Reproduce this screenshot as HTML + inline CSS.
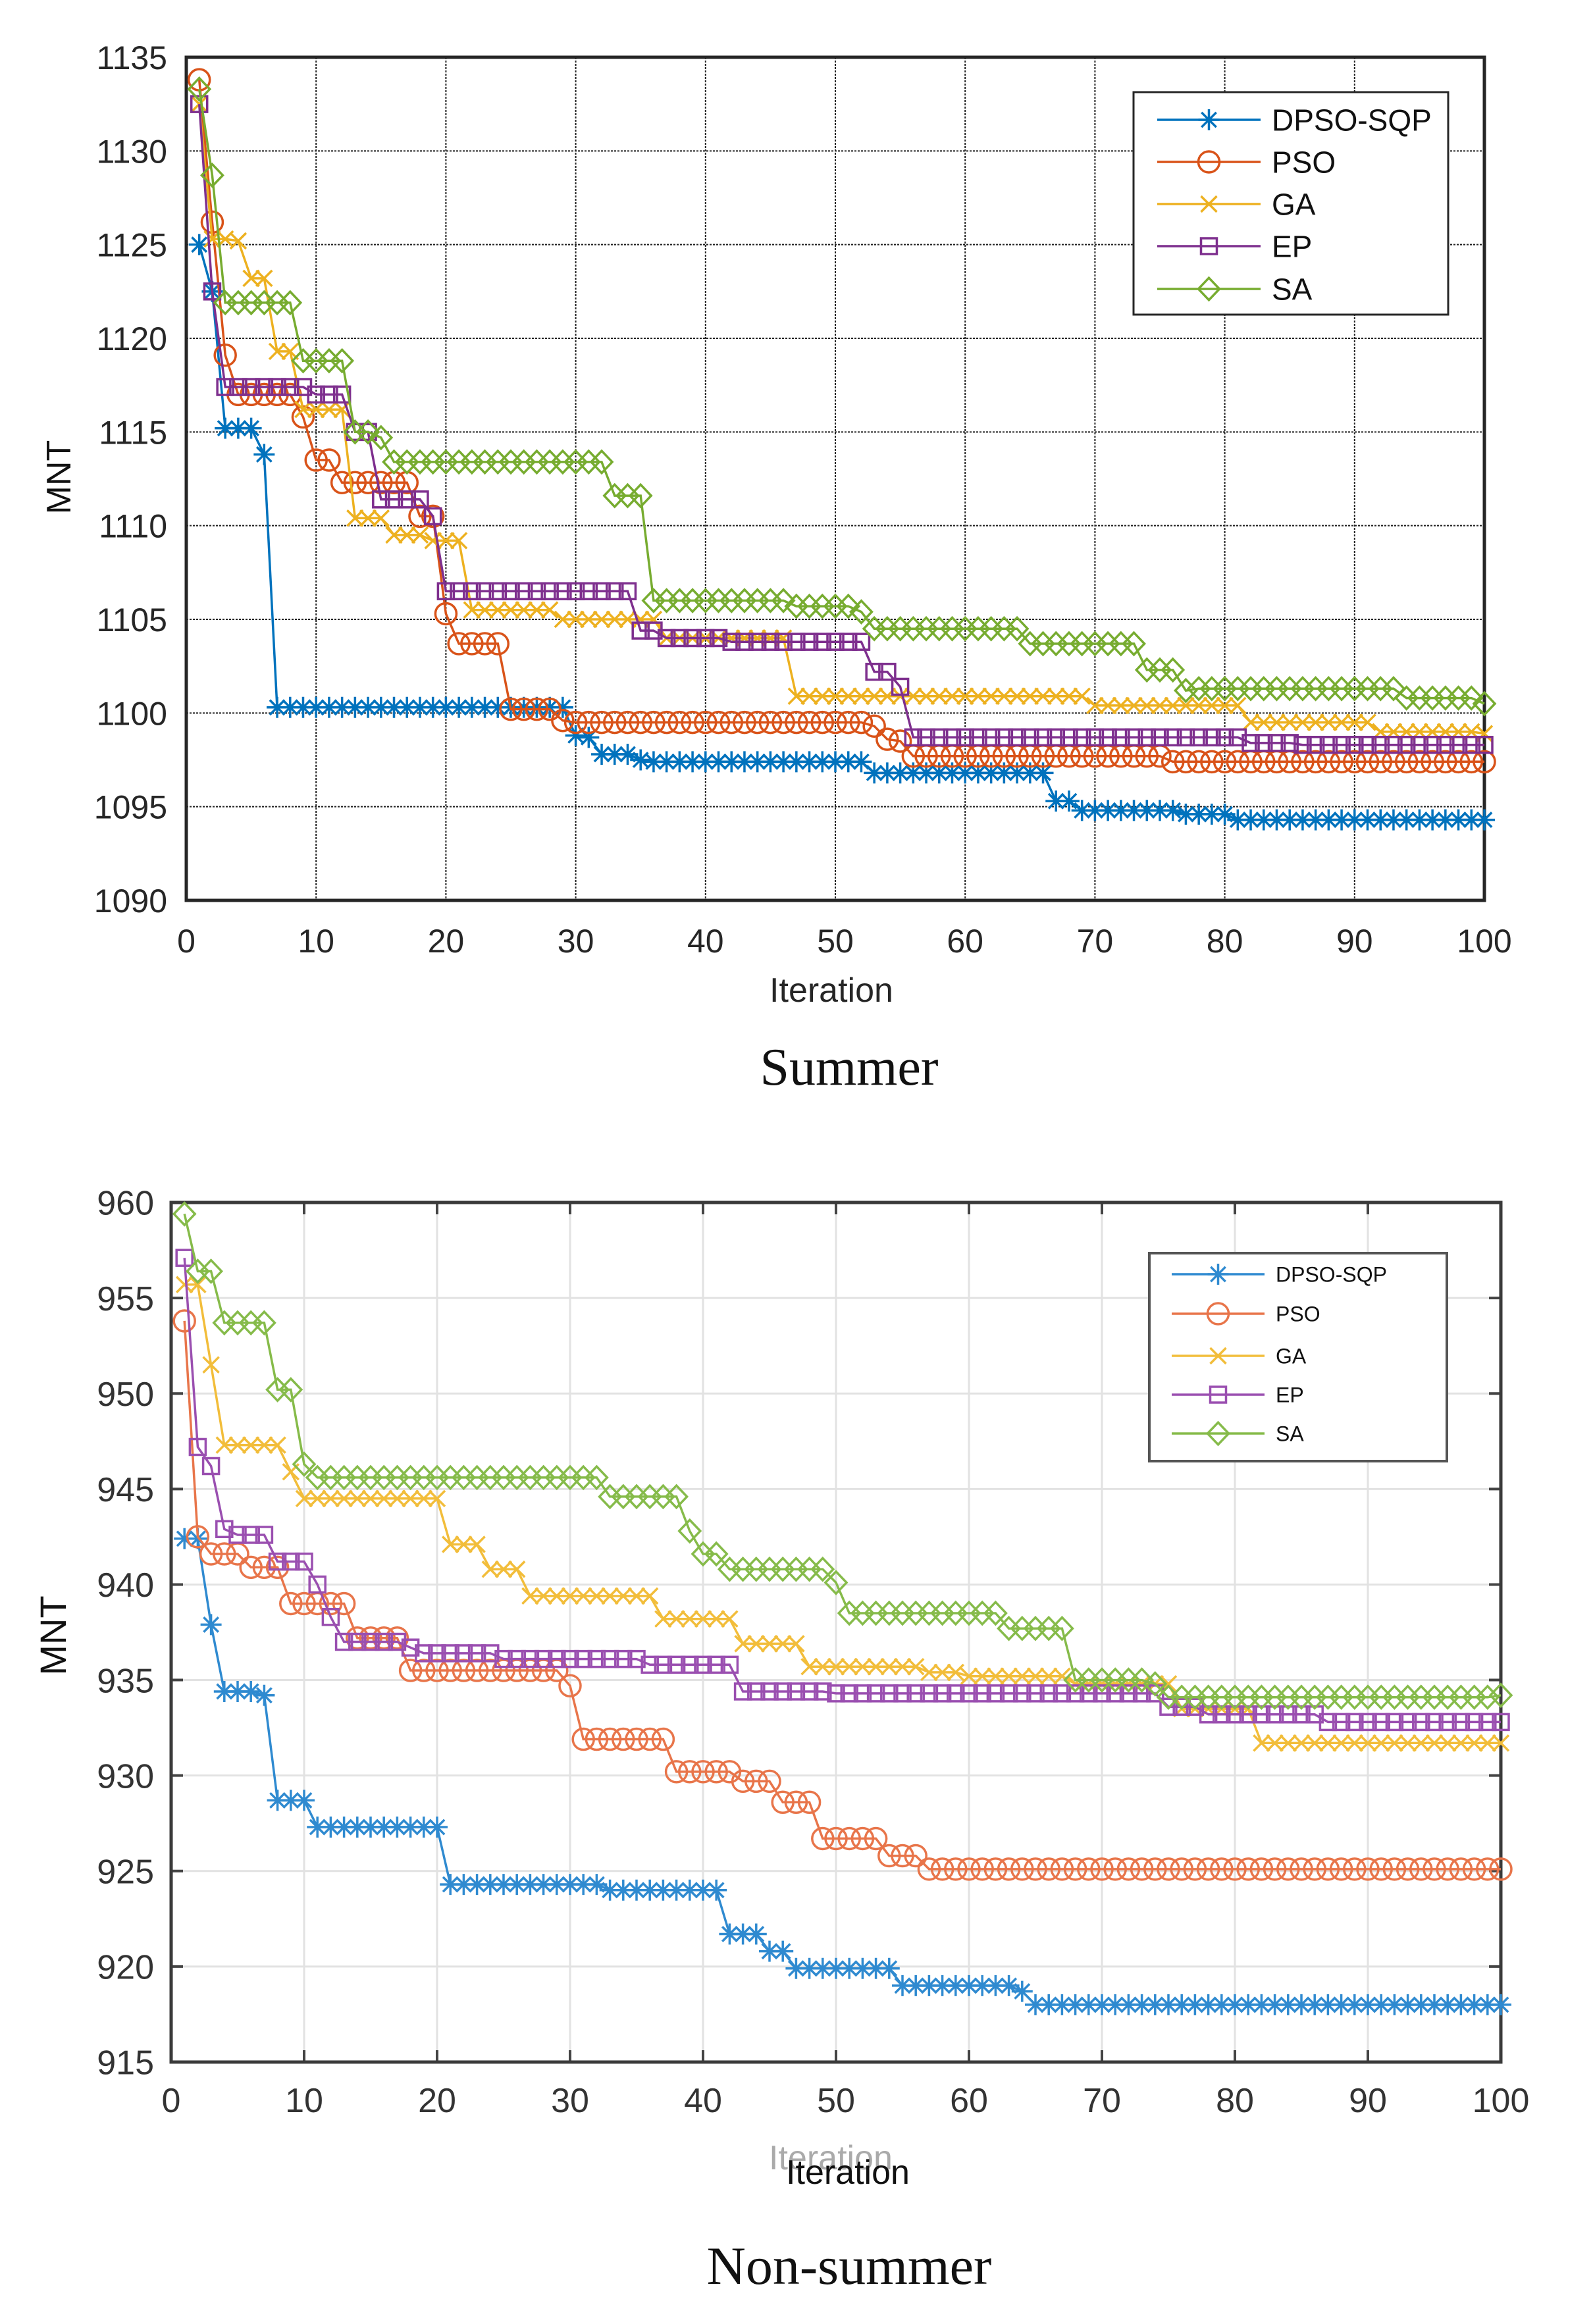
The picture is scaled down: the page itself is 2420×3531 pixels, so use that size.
<!DOCTYPE html>
<html><head><meta charset="utf-8"><style>
html,body{margin:0;padding:0;background:#fff;}
svg{display:block;}
text{font-family:"Liberation Sans",sans-serif;}
</style></head><body>
<svg id="svg" xmlns="http://www.w3.org/2000/svg" width="2420" height="3531" viewBox="0 0 2420 3531">
<rect width="2420" height="3531" fill="#fff"/>
<g id="c1"></g>
<g id="c2"></g>
</svg>
<script>
const iterations = Array.from({length:100},(_,i)=>i+1);
const seriesNames = ["DPSO-SQP","PSO","GA","EP","SA"];
const xTicks = [0,10,20,30,40,50,60,70,80,90,100];
const summerYTicks = [1090,1095,1100,1105,1110,1115,1120,1125,1130,1135];
const nonSummerYTicks = [915,920,925,930,935,940,945,950,955,960];

const summerDPSO = [1125,1122.5,1115.2,1115.2,1115.2,1113.8,1100.3,1100.3,1100.3,1100.3,
1100.3,1100.3,1100.3,1100.3,1100.3,1100.3,1100.3,1100.3,1100.3,1100.3,
1100.3,1100.3,1100.3,1100.3,1100.3,1100.3,1100.3,1100.3,1100.3,1098.8,
1098.7,1097.8,1097.8,1097.8,1097.5,1097.4,1097.4,1097.4,1097.4,1097.4,
1097.4,1097.4,1097.4,1097.4,1097.4,1097.4,1097.4,1097.4,1097.4,1097.4,
1097.4,1097.4,1096.8,1096.8,1096.8,1096.8,1096.8,1096.8,1096.8,1096.8,
1096.8,1096.8,1096.8,1096.8,1096.8,1096.8,1095.3,1095.3,1094.8,1094.8,
1094.8,1094.8,1094.8,1094.8,1094.8,1094.8,1094.6,1094.6,1094.6,1094.6,
1094.3,1094.3,1094.3,1094.3,1094.3,1094.3,1094.3,1094.3,1094.3,1094.3,
1094.3,1094.3,1094.3,1094.3,1094.3,1094.3,1094.3,1094.3,1094.3,1094.3];
const summerPSO = [1133.8,1126.2,1119.1,1117,1117,1117,1117,1117,1115.8,1113.5,
1113.5,1112.3,1112.3,1112.3,1112.3,1112.3,1112.3,1110.5,1110.5,1105.3,
1103.7,1103.7,1103.7,1103.7,1100.2,1100.2,1100.2,1100.2,1099.6,1099.5,
1099.5,1099.5,1099.5,1099.5,1099.5,1099.5,1099.5,1099.5,1099.5,1099.5,
1099.5,1099.5,1099.5,1099.5,1099.5,1099.5,1099.5,1099.5,1099.5,1099.5,
1099.5,1099.5,1099.3,1098.6,1098.5,1097.7,1097.7,1097.7,1097.7,1097.7,
1097.7,1097.7,1097.7,1097.7,1097.7,1097.7,1097.7,1097.7,1097.7,1097.7,
1097.7,1097.7,1097.7,1097.7,1097.7,1097.4,1097.4,1097.4,1097.4,1097.4,
1097.4,1097.4,1097.4,1097.4,1097.4,1097.4,1097.4,1097.4,1097.4,1097.4,
1097.4,1097.4,1097.4,1097.4,1097.4,1097.4,1097.4,1097.4,1097.4,1097.4];
const summerGA = [1132.5,1125.3,1125.3,1125.2,1123.2,1123.2,1119.3,1119.3,1116.2,1116.2,
1116.2,1116.2,1110.4,1110.4,1110.4,1109.5,1109.5,1109.5,1109.2,1109.2,
1109.2,1105.5,1105.5,1105.5,1105.5,1105.5,1105.5,1105.5,1105,1105,
1105,1105,1105,1105,1105,1105,1104,1104,1104,1104,
1104,1104,1104,1104,1104,1104,1100.9,1100.9,1100.9,1100.9,
1100.9,1100.9,1100.9,1100.9,1100.9,1100.9,1100.9,1100.9,1100.9,1100.9,
1100.9,1100.9,1100.9,1100.9,1100.9,1100.9,1100.9,1100.9,1100.9,1100.4,
1100.4,1100.4,1100.4,1100.4,1100.4,1100.4,1100.4,1100.4,1100.4,1100.4,
1100.4,1099.5,1099.5,1099.5,1099.5,1099.5,1099.5,1099.5,1099.5,1099.5,
1099.5,1099,1099,1099,1099,1099,1099,1099,1099,1098.9];
const summerEP = [1132.5,1122.5,1117.4,1117.4,1117.4,1117.4,1117.4,1117.4,1117.4,1117,
1117,1117,1115,1115,1111.4,1111.4,1111.4,1111.4,1110.5,1106.5,
1106.5,1106.5,1106.5,1106.5,1106.5,1106.5,1106.5,1106.5,1106.5,1106.5,
1106.5,1106.5,1106.5,1106.5,1104.4,1104.4,1104,1104,1104,1104,
1104,1103.8,1103.8,1103.8,1103.8,1103.8,1103.8,1103.8,1103.8,1103.8,
1103.8,1103.8,1102.2,1102.2,1101.4,1098.7,1098.7,1098.7,1098.7,1098.7,
1098.7,1098.7,1098.7,1098.7,1098.7,1098.7,1098.7,1098.7,1098.7,1098.7,
1098.7,1098.7,1098.7,1098.7,1098.7,1098.7,1098.7,1098.7,1098.7,1098.7,
1098.7,1098.4,1098.4,1098.4,1098.4,1098.3,1098.3,1098.3,1098.3,1098.3,
1098.3,1098.3,1098.3,1098.3,1098.3,1098.3,1098.3,1098.3,1098.3,1098.3];
const summerSA = [1133.3,1128.7,1121.9,1121.9,1121.9,1121.9,1121.9,1121.9,1118.8,1118.8,
1118.8,1118.8,1115,1115,1114.7,1113.4,1113.4,1113.4,1113.4,1113.4,
1113.4,1113.4,1113.4,1113.4,1113.4,1113.4,1113.4,1113.4,1113.4,1113.4,
1113.4,1113.4,1111.6,1111.6,1111.6,1106,1106,1106,1106,1106,
1106,1106,1106,1106,1106,1106,1105.7,1105.7,1105.7,1105.7,
1105.7,1105.4,1104.5,1104.5,1104.5,1104.5,1104.5,1104.5,1104.5,1104.5,
1104.5,1104.5,1104.5,1104.5,1103.7,1103.7,1103.7,1103.7,1103.7,1103.7,
1103.7,1103.7,1103.7,1102.3,1102.3,1102.3,1101.2,1101.3,1101.3,1101.3,
1101.3,1101.3,1101.3,1101.3,1101.3,1101.3,1101.3,1101.3,1101.3,1101.3,
1101.3,1101.3,1101.3,1100.8,1100.8,1100.8,1100.8,1100.8,1100.8,1100.5];

const nsDPSO = [942.4,942.4,937.9,934.4,934.4,934.4,934.2,928.7,928.7,928.7,
927.3,927.3,927.3,927.3,927.3,927.3,927.3,927.3,927.3,927.3,
924.3,924.3,924.3,924.3,924.3,924.3,924.3,924.3,924.3,924.3,
924.3,924.3,924,924,924,924,924,924,924,924,
924,921.7,921.7,921.7,920.8,920.8,919.9,919.9,919.9,919.9,
919.9,919.9,919.9,919.9,919,919,919,919,919,919,
919,919,919,918.7,918,918,918,918,918,918,
918,918,918,918,918,918,918,918,918,918,
918,918,918,918,918,918,918,918,918,918,
918,918,918,918,918,918,918,918,918,918];
const nsPSO = [953.8,942.5,941.6,941.6,941.6,940.9,940.9,940.9,939,939,
939,939,939,937.2,937.2,937.2,937.2,935.5,935.5,935.5,
935.5,935.5,935.5,935.5,935.5,935.5,935.5,935.5,935.5,934.7,
931.9,931.9,931.9,931.9,931.9,931.9,931.9,930.2,930.2,930.2,
930.2,930.2,929.7,929.7,929.7,928.6,928.6,928.6,926.7,926.7,
926.7,926.7,926.7,925.8,925.8,925.8,925.1,925.1,925.1,925.1,
925.1,925.1,925.1,925.1,925.1,925.1,925.1,925.1,925.1,925.1,
925.1,925.1,925.1,925.1,925.1,925.1,925.1,925.1,925.1,925.1,
925.1,925.1,925.1,925.1,925.1,925.1,925.1,925.1,925.1,925.1,
925.1,925.1,925.1,925.1,925.1,925.1,925.1,925.1,925.1,925.1];
const nsGA = [955.7,955.7,951.5,947.3,947.3,947.3,947.3,947.3,945.9,944.5,
944.5,944.5,944.5,944.5,944.5,944.5,944.5,944.5,944.5,944.5,
942.1,942.1,942.1,940.8,940.8,940.8,939.4,939.4,939.4,939.4,
939.4,939.4,939.4,939.4,939.4,939.4,938.2,938.2,938.2,938.2,
938.2,938.2,936.9,936.9,936.9,936.9,936.9,935.7,935.7,935.7,
935.7,935.7,935.7,935.7,935.7,935.7,935.4,935.4,935.4,935.2,
935.2,935.2,935.2,935.2,935.2,935.2,935.2,934.8,934.8,934.8,
934.8,934.8,934.8,934.8,934.8,933.5,933.5,933.5,933.5,933.5,
933.5,931.7,931.7,931.7,931.7,931.7,931.7,931.7,931.7,931.7,
931.7,931.7,931.7,931.7,931.7,931.7,931.7,931.7,931.7,931.7];
const nsEP = [957.1,947.2,946.2,942.9,942.6,942.6,942.6,941.2,941.2,941.2,
940,938.3,937,937,937,937,937,936.7,936.4,936.4,
936.4,936.4,936.4,936.4,936.1,936.1,936.1,936.1,936.1,936.1,
936.1,936.1,936.1,936.1,936.1,935.8,935.8,935.8,935.8,935.8,
935.8,935.8,934.4,934.4,934.4,934.4,934.4,934.4,934.4,934.3,
934.3,934.3,934.3,934.3,934.3,934.3,934.3,934.3,934.3,934.3,
934.3,934.3,934.3,934.3,934.3,934.3,934.3,934.3,934.3,934.3,
934.3,934.3,934.3,934.3,933.6,933.6,933.6,933.2,933.2,933.2,
933.2,933.2,933.2,933.2,933.2,933.2,932.8,932.8,932.8,932.8,
932.8,932.8,932.8,932.8,932.8,932.8,932.8,932.8,932.8,932.8];
const nsSA = [959.4,956.4,956.4,953.7,953.7,953.7,953.7,950.2,950.2,946.3,
945.6,945.6,945.6,945.6,945.6,945.6,945.6,945.6,945.6,945.6,
945.6,945.6,945.6,945.6,945.6,945.6,945.6,945.6,945.6,945.6,
945.6,945.6,944.6,944.6,944.6,944.6,944.6,944.6,942.8,941.6,
941.6,940.8,940.8,940.8,940.8,940.8,940.8,940.8,940.8,940.1,
938.5,938.5,938.5,938.5,938.5,938.5,938.5,938.5,938.5,938.5,
938.5,938.5,937.7,937.7,937.7,937.7,937.7,935,935,935,
935,935,935,934.8,934.1,934.1,934.1,934.1,934.1,934.1,
934.1,934.1,934.1,934.1,934.1,934.1,934.1,934.1,934.1,934.1,
934.1,934.1,934.1,934.1,934.1,934.1,934.1,934.1,934.1,934.2];

const NS="http://www.w3.org/2000/svg";
function mk(parent,tag,attrs,txt){const e=document.createElementNS(NS,tag);for(const k in attrs)e.setAttribute(k,attrs[k]);if(txt!==undefined)e.textContent=txt;parent.appendChild(e);return e;}

function marker(g,type,x,y,c,s,w){
  let p;
  if(type==="star"){
    p="M"+(x-s)+","+y+"H"+(x+s)+"M"+x+","+(y-s)+"V"+(y+s)+"M"+(x-s*.7)+","+(y-s*.7)+"L"+(x+s*.7)+","+(y+s*.7)+"M"+(x-s*.7)+","+(y+s*.7)+"L"+(x+s*.7)+","+(y-s*.7);
    return mk(g,"path",{d:p,stroke:c,"stroke-width":w,fill:"none"});
  }
  if(type==="circle") return mk(g,"circle",{cx:x,cy:y,r:s,stroke:c,"stroke-width":w,fill:"none"});
  if(type==="x"){p="M"+(x-s*.75)+","+(y-s*.75)+"L"+(x+s*.75)+","+(y+s*.75)+"M"+(x-s*.75)+","+(y+s*.75)+"L"+(x+s*.75)+","+(y-s*.75);return mk(g,"path",{d:p,stroke:c,"stroke-width":w,fill:"none"});}
  if(type==="square") return mk(g,"rect",{x:x-s*.75,y:y-s*.75,width:s*1.5,height:s*1.5,stroke:c,"stroke-width":w,fill:"none"});
  if(type==="diamond"){p="M"+x+","+(y-s*1.05)+"L"+(x+s)+","+y+"L"+x+","+(y+s*1.05)+"L"+(x-s)+","+y+"Z";return mk(g,"path",{d:p,stroke:c,"stroke-width":w,fill:"none"});}
}

function chart(cfg){
  const g=document.getElementById(cfg.id);
  const sx=v=>cfg.L+(v-0)/100*(cfg.R-cfg.L);
  const sy=v=>cfg.B-(v-cfg.ymin)/(cfg.ymax-cfg.ymin)*(cfg.B-cfg.T);
  xTicks.forEach(t=>{const l=mk(g,"line",{x1:sx(t),x2:sx(t),y1:cfg.T,y2:cfg.B,stroke:cfg.grid,"stroke-width":cfg.gw,"stroke-dasharray":cfg.dash});
    
    
    const tk=mk(g,"text",{x:sx(t),y:cfg.xlabY,"text-anchor":"middle","font-size":cfg.fs,fill:cfg.tc},String(t));
    
    
    if(cfg.ticks){mk(g,"line",{x1:sx(t),x2:sx(t),y1:cfg.B,y2:cfg.B-18,stroke:"#444","stroke-width":4});mk(g,"line",{x1:sx(t),x2:sx(t),y1:cfg.T,y2:cfg.T+18,stroke:"#444","stroke-width":4});}
  });
  cfg.yt.forEach(t=>{const l=mk(g,"line",{x1:cfg.L,x2:cfg.R,y1:sy(t),y2:sy(t),stroke:cfg.grid,"stroke-width":cfg.gw,"stroke-dasharray":cfg.dash});
    
    
    const tk=mk(g,"text",{x:cfg.ylabX,y:sy(t)+cfg.fs*0.36,"text-anchor":"end","font-size":cfg.fs,fill:cfg.tc},String(t));
    
    
    if(cfg.ticks){mk(g,"line",{x1:cfg.L,x2:cfg.L+18,y1:sy(t),y2:sy(t),stroke:"#444","stroke-width":4});mk(g,"line",{x1:cfg.R,x2:cfg.R-18,y1:sy(t),y2:sy(t),stroke:"#444","stroke-width":4});}
  });
  const fr=mk(g,"rect",{x:cfg.L,y:cfg.T,width:cfg.R-cfg.L,height:cfg.B-cfg.T,fill:"none",stroke:cfg.axc,"stroke-width":cfg.aw});
  
  
  cfg.series.forEach((vals,si)=>{
    const sg=mk(g,"g",{});
    
    
    const d=vals.map((v,i)=>(i?"L":"M")+sx(iterations[i]).toFixed(1)+","+sy(v).toFixed(1)).join("");
    mk(sg,"path",{d:d,stroke:cfg.colors[si],"stroke-width":cfg.lw,fill:"none"});
    vals.forEach((v,i)=>{const m=marker(sg,cfg.markers[si],sx(iterations[i]),sy(v),cfg.colors[si],cfg.ms,cfg.lw);
      
      });
  });
  const lg=mk(g,"g",{});
  
  
  mk(lg,"rect",{x:cfg.lg.x,y:cfg.lg.y,width:cfg.lg.w,height:cfg.lg.h,fill:"#fff",stroke:cfg.lg.stroke,"stroke-width":cfg.lg.sw});
  seriesNames.forEach((n,i)=>{
    const e=mk(lg,"g",{});
    
    
    const y=cfg.lg.ys[i];
    mk(e,"line",{x1:cfg.lg.l1,x2:cfg.lg.l2,y1:y,y2:y,stroke:cfg.colors[i],"stroke-width":cfg.lw});
    marker(e,cfg.markers[i],(cfg.lg.l1+cfg.lg.l2)/2,y,cfg.colors[i],cfg.ms,cfg.lw);
    mk(e,"text",{x:cfg.lg.tx,y:y+cfg.lg.fs*0.36,"font-size":cfg.lg.fs,fill:"#111"},n);
  });
}

const markersList=["star","circle","x","square","diamond"];
chart({id:"c1",L:283,R:2255,T:87,B:1368,ymin:1090,ymax:1135,yt:summerYTicks,
  grid:"#222",gw:2,dash:"3,2",axc:"#262626",aw:5,tc:"#262626",fs:50,xlabY:1447,ylabX:254,ticks:false,
  series:[summerDPSO,summerPSO,summerGA,summerEP,summerSA],
  colors:["#0072BD","#D95319","#EDB120","#7E2F8E","#77AC30"],markers:markersList,lw:3.5,ms:16,
  lg:{x:1722,y:140,w:478,h:338,stroke:"#262626",sw:3,ys:[182,246,310,374,439],l1:1758,l2:1915,tx:1932,fs:46}});
chart({id:"c2",L:260,R:2280,T:1827,B:3133,ymin:915,ymax:960,yt:nonSummerYTicks,
  grid:"#e2e2e2",gw:3,dash:"none",axc:"#3a3a3a",aw:5,tc:"#333",fs:52,xlabY:3209,ylabX:234,ticks:true,
  series:[nsDPSO,nsPSO,nsGA,nsEP,nsSA],
  colors:["#2f8ad0","#e8754a","#f2bd3a","#9a4fb0","#86bb4a"],markers:markersList,lw:3.5,ms:16,
  lg:{x:1746,y:1904,w:452,h:316,stroke:"#555",sw:4,ys:[1936,1996,2060,2119,2178],l1:1780,l2:1921,tx:1938,fs:32}});
</script>
<svg style="position:absolute;left:0;top:0" width="2420" height="3531">
<text x="1263" y="1522" text-anchor="middle" font-size="52" fill="#262626" style="font-family:'Liberation Sans',sans-serif">Iteration</text>
<text transform="translate(107,725) rotate(-90)" text-anchor="middle" font-size="52" fill="#111" style="font-family:'Liberation Sans',sans-serif">MNT</text>
<text x="1290" y="1648" text-anchor="middle" font-size="80" fill="#111" style="font-family:'Liberation Serif',serif">Summer</text>
<text x="1262" y="3296" text-anchor="middle" font-size="52" fill="#aaa" style="font-family:'Liberation Sans',sans-serif">Iteration</text>
<text x="1288" y="3318" text-anchor="middle" font-size="52" fill="#111" style="font-family:'Liberation Sans',sans-serif">Iteration</text>
<text transform="translate(100,2485) rotate(-90)" text-anchor="middle" font-size="56" fill="#111" style="font-family:'Liberation Sans',sans-serif">MNT</text>
<text x="1290" y="3470" text-anchor="middle" font-size="82" fill="#111" style="font-family:'Liberation Serif',serif">Non-summer</text>
</svg>
</body></html>
